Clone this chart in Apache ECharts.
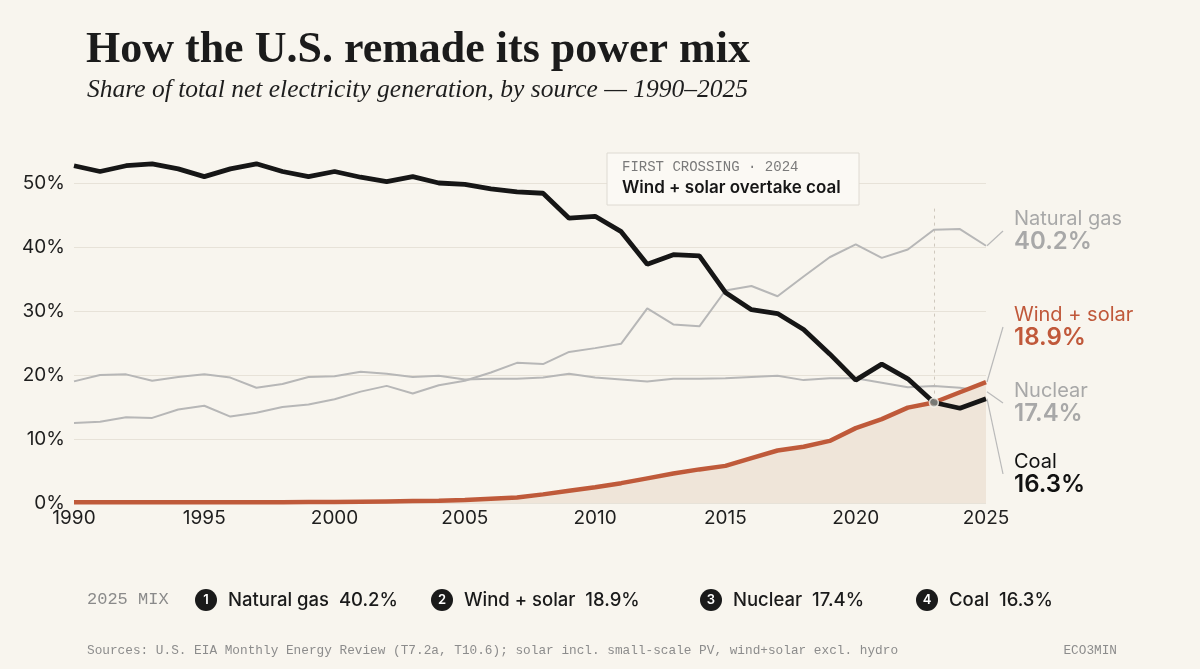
<!DOCTYPE html>
<html>
<head>
<meta charset="utf-8">
<script src="https://cdn.jsdelivr.net/npm/echarts@6/dist/echarts.min.js"></script>
<style>
  html, body { margin: 0; padding: 0; background: #f8f5ee; }
  #echarts { width: 1200px; height: 669px; }
</style>
</head>
<body>
<div id="echarts"></div>
<script>
// years on the x axis
var years = [1990,1991,1992,1993,1994,1995,1996,1997,1998,1999,
             2000,2001,2002,2003,2004,2005,2006,2007,2008,2009,
             2010,2011,2012,2013,2014,2015,2016,2017,2018,2019,
             2020,2021,2022,2023,2024,2025];

// share of net generation, %
var coal = [52.7,51.8,52.7,53.0,52.2,51.0,52.2,53.0,51.8,51.0,
            51.8,50.9,50.2,51.0,50.0,49.8,49.1,48.6,48.4,44.5,
            44.8,42.4,37.3,38.8,38.6,32.9,30.2,29.6,27.1,23.3,
            19.2,21.7,19.4,15.7,14.8,16.3];
var gas = [12.5,12.7,13.4,13.3,14.6,15.2,13.5,14.1,15.0,15.4,
           16.2,17.4,18.3,17.1,18.4,19.1,20.4,21.9,21.7,23.6,
           24.2,24.9,30.4,27.9,27.6,33.2,33.9,32.3,35.4,38.4,
           40.4,38.3,39.6,42.7,42.8,40.2];
var nuclear = [19.0,20.0,20.1,19.1,19.7,20.1,19.6,18.0,18.6,19.7,
               19.8,20.5,20.2,19.7,19.9,19.3,19.4,19.4,19.6,20.2,
               19.6,19.3,19.0,19.4,19.4,19.5,19.7,19.9,19.2,19.5,
               19.5,18.8,18.1,18.3,18.0,17.4];
var windSolar = [0.1,0.1,0.1,0.1,0.1,0.1,0.1,0.1,0.1,0.15,
                 0.15,0.2,0.25,0.3,0.35,0.45,0.65,0.85,1.35,1.9,
                 2.45,3.1,3.85,4.6,5.25,5.8,7.0,8.2,8.8,9.7,
                 11.7,13.1,14.9,15.7,17.3,18.9];

var yTicks = [0, 10, 20, 30, 40, 50];
var xTicks = [1990, 1995, 2000, 2005, 2010, 2015, 2020, 2025];

// crossing point
var crossYear = 2023;
var crossValue = 15.7;

// 2025 mix, ranked
var mixNames = ['Natural gas', 'Wind + solar', 'Nuclear', 'Coal'];
var mixValues = [40.2, 18.9, 17.4, 16.3];

var GRAY = '#b7b7b7';
var LABEL_GRAY = '#a8a8a8';
var ORANGE = '#bf5a3a';
var BLACK = '#161616';
var SANS = 'Inter, "Noto Sans", sans-serif';
var MONO = '"Liberation Mono", "DejaVu Sans Mono", monospace';

function pairs(vals) {
    return years.map(function (y, i) { return [y, vals[i]]; });
}

var myChart = echarts.init(document.getElementById('echarts'));

var option = {
    backgroundColor: '#f8f5ee',
    animation: false,
    grid: { left: 74, right: 214, top: 183, bottom: 166 },
    xAxis: {
        type: 'value',
        min: 1990, max: 2025, interval: 5,
        axisLine: { show: false },
        axisTick: { show: false },
        splitLine: { show: false },
        axisLabel: {
            color: '#1e1e1e', fontSize: 19, fontFamily: SANS, margin: 6,
            formatter: function (v) { return xTicks.indexOf(v) >= 0 ? String(v) : ''; }
        }
    },
    yAxis: {
        type: 'value',
        min: 0, max: 50, interval: 10,
        axisLine: { show: false },
        axisTick: { show: false },
        splitLine: { lineStyle: { color: '#e7e2d8', width: 1 } },
        axisLabel: {
            color: '#1e1e1e', fontSize: 19, fontFamily: SANS, margin: 9,
            formatter: function (v) { return yTicks.indexOf(v) >= 0 ? v + '%' : ''; }
        }
    },
    series: [
        {
            name: 'Natural gas', type: 'line', data: pairs(gas),
            showSymbol: false, clip: false, z: 2,
            lineStyle: { color: GRAY, width: 2 }
        },
        {
            name: 'Nuclear', type: 'line', data: pairs(nuclear),
            showSymbol: false, clip: false, z: 2,
            lineStyle: { color: GRAY, width: 2 }
        },
        {
            name: 'Wind + solar', type: 'line', data: pairs(windSolar),
            showSymbol: false, clip: false, z: 4,
            lineStyle: { color: ORANGE, width: 4.5 },
            areaStyle: { color: '#efe5d9', opacity: 1 },
            markLine: {
                silent: true, symbol: 'none', z: 1,
                lineStyle: { color: '#cfc8bd', type: [3, 4], width: 1 },
                label: { show: false },
                data: [[{ coord: [crossYear, 46] }, { coord: [crossYear, 0] }]]
            }
        },
        {
            name: 'Coal', type: 'line', data: pairs(coal),
            showSymbol: false, clip: false, z: 5,
            lineStyle: { color: BLACK, width: 4.8 }
        },
        {
            name: 'crossing', type: 'scatter', z: 6,
            data: [[crossYear, crossValue]],
            symbolSize: 9,
            itemStyle: { color: '#8f918c', borderColor: '#f8f5ee', borderWidth: 1.5 }
        }
    ]
};
myChart.setOption(option);

// end labels with leaders
var endLabels = [
    { vals: gas,       name: 'Natural gas',  color: LABEL_GRAY, midY: 231 },
    { vals: windSolar, name: 'Wind + solar', color: '#c0583a',  midY: 327 },
    { vals: nuclear,   name: 'Nuclear',      color: LABEL_GRAY, midY: 403 },
    { vals: coal,      name: 'Coal',         color: '#111111',  midY: 474 }
];

var graphics = [];
endLabels.forEach(function (l) {
    var last = l.vals[l.vals.length - 1];
    var p = myChart.convertToPixel({ gridIndex: 0 }, [years[years.length - 1], last]);
    graphics.push({
        type: 'line', z: 10,
        shape: { x1: p[0] + 1, y1: p[1], x2: 1003, y2: l.midY },
        style: { stroke: '#b9b9b9', lineWidth: 1.2 }
    });
    graphics.push({
        type: 'text', left: 1014, top: l.midY - 22, z: 10,
        style: { text: l.name, fill: l.color, font: '400 20px ' + SANS }
    });
    graphics.push({
        type: 'text', left: 1014, top: l.midY - 1, z: 10,
        style: { text: last.toFixed(1) + '%', fill: l.color, font: '600 24px ' + SANS }
    });
});

// title & subtitle
graphics.push({
    type: 'text', left: 86, top: 29,
    style: { text: 'How the U.S. remade its power mix', fill: '#1b1b1b',
             font: 'bold 44px "Liberation Serif", "DejaVu Serif", serif' }
});
graphics.push({
    type: 'text', left: 87, top: 77,
    style: { text: 'Share of total net electricity generation, by source \u2014 1990\u20132025',
             fill: '#1e1e1e', font: 'italic 25.5px "Liberation Serif", "DejaVu Serif", serif' }
});

// annotation box
graphics.push({
    type: 'rect', z: 8,
    shape: { x: 607, y: 153, width: 252, height: 52 },
    style: { fill: '#fbf9f4', stroke: '#dedad2', lineWidth: 1 }
});
graphics.push({
    type: 'text', left: 622, top: 160, z: 9,
    style: { text: 'FIRST CROSSING \u00b7 2024', fill: '#7a7a7a', font: '14px ' + MONO }
});
graphics.push({
    type: 'text', left: 622, top: 179, z: 9,
    style: { text: 'Wind + solar overtake coal', fill: '#161616', font: '600 17px ' + SANS }
});

// 2025 mix legend
var legendX = [206, 442, 711, 927];
graphics.push({
    type: 'text', left: 87, top: 591,
    style: { text: '2025 MIX', fill: '#8a8a8a', font: '17px ' + MONO }
});
mixNames.forEach(function (n, i) {
    graphics.push({
        type: 'circle', shape: { cx: legendX[i], cy: 600, r: 11 },
        style: { fill: '#1a1a1a' }
    });
    graphics.push({
        type: 'text', x: legendX[i], y: 600,
        style: { text: String(i + 1), fill: '#ffffff', font: '600 13px ' + SANS,
                 align: 'center', verticalAlign: 'middle' }
    });
    graphics.push({
        type: 'text', x: legendX[i] + 22, y: 600,
        style: { text: n + '  ' + mixValues[i].toFixed(1) + '%', fill: '#1a1a1a',
                 font: '500 18.5px ' + SANS, verticalAlign: 'middle' }
    });
});

// sources
graphics.push({
    type: 'text', left: 87, top: 644,
    style: { text: 'Sources: U.S. EIA Monthly Energy Review (T7.2a, T10.6); solar incl. small-scale PV, wind+solar excl. hydro',
             fill: '#8c8c8c', font: '12.75px ' + MONO }
});
graphics.push({
    type: 'text', right: 83, top: 644,
    style: { text: 'ECO3MIN', fill: '#8c8c8c', font: '12.75px ' + MONO }
});

myChart.setOption({ graphic: graphics });
</script>
</body>
</html>
